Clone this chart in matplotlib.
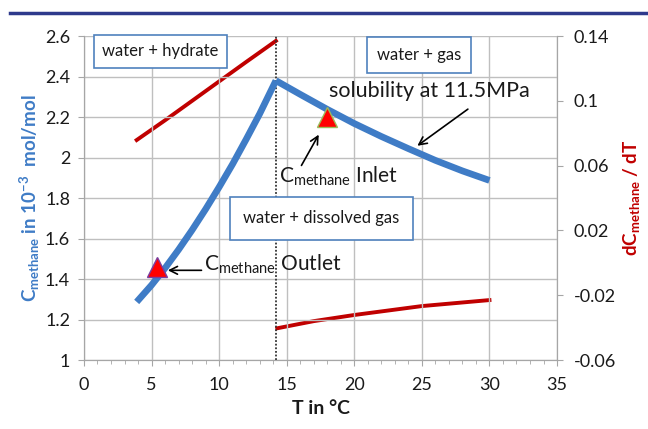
import matplotlib
matplotlib.use("Agg")
import matplotlib.pyplot as plt
from matplotlib.lines import Line2D
from matplotlib.ticker import MultipleLocator, FuncFormatter

plt.rcParams['font.family'] = ['Lato', 'DejaVu Sans']
plt.rcParams['mathtext.fontset'] = 'custom'
plt.rcParams['mathtext.rm'] = 'Lato'
plt.rcParams['mathtext.bf'] = 'Lato:bold'

# concentration (left axis), 10^-3 mol/mol
t_hyd = [3.9, 5, 6, 7, 8, 9, 10, 11, 12, 13, 14.2]
c_hyd = [1.287, 1.37, 1.454, 1.545, 1.642, 1.745, 1.854, 1.968, 2.09, 2.216, 2.38]
t_gas = [14.2, 16, 18, 20, 22, 24, 26, 28, 30]
c_gas = [2.38, 2.312, 2.238, 2.168, 2.104, 2.044, 1.986, 1.934, 1.887]

# derivative dC/dT (right axis)
t_dhyd = [3.9, 6, 8, 10, 12, 14.2]
d_hyd = [0.0758, 0.088, 0.100, 0.112, 0.124, 0.137]
t_dgas = [14.3, 17, 20, 25, 30]
d_gas = [-0.0404, -0.0360, -0.0322, -0.0267, -0.0230]

# inlet / outlet measurements
t_meas = [5.4, 18.0]
c_meas = [1.46, 2.20]

t_phase = 14.2

blue = '#3f7cc6'
red = '#c00000'
grid_c = '#bfbfbf'

fig = plt.figure(figsize=(6.48, 4.29), dpi=100)
ax = fig.add_axes([0.1296, 0.1608, 0.73, 0.7552])
ax2 = ax.twinx()

ax.set_xlim(0, 35)
ax.set_ylim(1, 2.6)
ax2.set_ylim(-0.06, 0.14)

ax.xaxis.set_major_locator(MultipleLocator(5))
ax.xaxis.set_minor_locator(MultipleLocator(1))
ax.yaxis.set_major_locator(MultipleLocator(0.2))
ax2.set_yticks([-0.06, -0.02, 0.02, 0.06, 0.1, 0.14])
fmt = FuncFormatter(lambda v, p: '%g' % round(v, 3))
ax.yaxis.set_major_formatter(fmt)
ax2.yaxis.set_major_formatter(fmt)

ax.grid(True, which='major', color=grid_c, lw=1)
ax.set_axisbelow(True)
for a in (ax, ax2):
    for s in a.spines.values():
        s.set_color('#a6a6a6')
    a.spines['top'].set_visible(False)
    a.tick_params(colors='#a6a6a6', labelcolor='#1a1a1a', labelsize=13,
                  which='both', direction='out', length=4)
ax.tick_params(axis='x', which='minor', length=3)
ax.tick_params(axis='x', pad=8)
ax.tick_params(axis='y', pad=6)
ax2.tick_params(axis='y', pad=8)

ax.plot(t_hyd, c_hyd, color=blue, lw=4.8, solid_capstyle='butt', zorder=3)
ax.plot(t_gas, c_gas, color=blue, lw=4.8, solid_capstyle='butt', zorder=3)
ax2.plot(t_dhyd, d_hyd, color=red, lw=2.8, zorder=3)
ax2.plot(t_dgas, d_gas, color=red, lw=2.8, zorder=3)
ax.axvline(t_phase, color='#333333', lw=1.3, ls=(0, (1, 1)), zorder=2)

ax2.set_zorder(ax.get_zorder() - 1)
ax.patch.set_visible(False)

ax.plot(t_meas[0], c_meas[0], marker='^', ms=15, color='#ff0000',
        mec='#7a3ea0', mew=1, ls='none', zorder=5)
ax.plot(t_meas[1], c_meas[1], marker='^', ms=15, color='#ff0000',
        mec='#9bbb59', mew=1, ls='none', zorder=5)

ax.text(5.66, 2.525, 'water + hydrate', ha='center', va='center',
        fontsize=12, color='#1a1a1a', zorder=6,
        bbox=dict(boxstyle='square,pad=0.5', fc='white', ec='#4f81bd', lw=1.2))
ax.text(24.8, 2.505, 'water + gas', ha='center', va='center',
        fontsize=12, color='#1a1a1a', zorder=6,
        bbox=dict(boxstyle='square,pad=0.6', fc='white', ec='#4f81bd', lw=1.2))
ax.text(17.58, 1.70, 'water + dissolved gas', ha='center', va='center',
        fontsize=12, color='#1a1a1a', zorder=6,
        bbox=dict(boxstyle='square,pad=0.8', fc='white', ec='#4f81bd', lw=1.2))

ax.text(18.13, 2.327, 'solubility at 11.5MPa', ha='left', va='center',
        fontsize=15.5, color='#1a1a1a', zorder=6)
ax.text(14.45, 1.91, r'C$_{\mathrm{methane}}$ Inlet', ha='left', va='center',
        fontsize=15, color='#1a1a1a', zorder=6)
ax.text(8.9, 1.475, r'C$_{\mathrm{methane}}$ Outlet', ha='left', va='center',
        fontsize=15, color='#1a1a1a', zorder=6)

arr = dict(arrowstyle='->', color='black', lw=1.2, mutation_scale=14)
ax.annotate('', xy=(24.5, 2.05), xytext=(28.57, 2.247), arrowprops=arr, zorder=6)
ax.annotate('', xy=(17.47, 2.125), xytext=(15.99, 1.949), arrowprops=arr, zorder=6)
ax.annotate('', xy=(6.0, 1.443), xytext=(8.9, 1.443), arrowprops=arr, zorder=6)

ax.set_xlabel('T in °C', fontsize=14, fontweight='bold', color='#1a1a1a', labelpad=5)
ax.set_ylabel(r'$\mathbf{C_{methane}}$ in 10$^{\mathbf{-3}}$  mol/mol', fontsize=13.5,
              fontweight='bold', color=blue, labelpad=2)
ax2.set_ylabel(r'$\mathbf{dC_{methane}}$ / dT', fontsize=13.5, fontweight='bold',
               color=red, labelpad=4)

fig.add_artist(Line2D([0.015, 1.0], [0.970, 0.970], color='#2e3a8c', lw=2.5))

fig.savefig('out.png', dpi=100)
